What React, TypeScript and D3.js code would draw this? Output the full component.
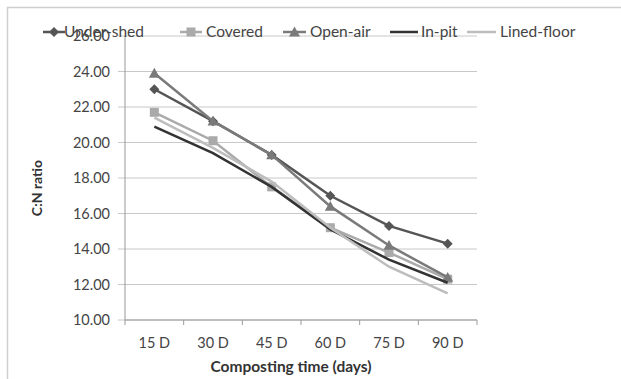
import React from "react";
import * as d3 from "d3";

const categories = ["15 D", "30 D", "45 D", "60 D", "75 D", "90 D"];
const underShed = [23.0, 21.2, 19.3, 17.0, 15.3, 14.3];
const covered = [21.7, 20.1, 17.5, 15.2, 13.8, 12.3];
const openAir = [23.9, 21.2, 19.3, 16.4, 14.2, 12.4];
const inPit = [20.9, 19.4, 17.5, 15.1, 13.4, 12.1];
const linedFloor = [21.4, 19.7, 17.8, 15.2, 13.0, 11.5];
const yTicks = [10, 12, 14, 16, 18, 20, 22, 24, 26];

const series = [
  { name: "Under-shed", values: underShed, color: "#555555", marker: "diamond" },
  { name: "Covered", values: covered, color: "#aaaaaa", marker: "square" },
  { name: "Open-air", values: openAir, color: "#7a7a7a", marker: "triangle" },
  { name: "In-pit", values: inPit, color: "#333333", marker: "none" },
  { name: "Lined-floor", values: linedFloor, color: "#bdbdbd", marker: "none" },
];

const W = 621, H = 379;
const left = 125, right = 477, top = 36, bottom = 320;

function Marker({ type, x, y, color }: { type: string; x: number; y: number; color: string }) {
  if (type === "diamond") {
    const s = 5;
    return <path d={`M${x},${y - s}L${x + s},${y}L${x},${y + s}L${x - s},${y}Z`} fill={color} />;
  }
  if (type === "square") {
    return <rect x={x - 4.5} y={y - 4.5} width={9} height={9} fill={color} />;
  }
  if (type === "triangle") {
    const s = 5.5;
    return <path d={`M${x},${y - s}L${x + s},${y + s * 0.8}L${x - s},${y + s * 0.8}Z`} fill={color} />;
  }
  return null;
}

export default function App() {
  const x = d3.scaleBand().domain(categories).range([left, right]);
  const y = d3.scaleLinear().domain([10, 26]).range([bottom, top]);
  const line = d3
    .line<number>()
    .x((_, i) => (x(categories[i]) as number) + x.bandwidth() / 2)
    .y((d) => y(d));

  const legendItems = [
    { lx: 43, lw: 22, tx: 64 },
    { lx: 180, lw: 22, tx: 206 },
    { lx: 283, lw: 23, tx: 310 },
    { lx: 390, lw: 28, tx: 421 },
    { lx: 467, lw: 29, tx: 500 },
  ];
  const font = "Lato, 'Open Sans', sans-serif";

  return (
    <svg width={W} height={H} style={{ position: "absolute", left: 0, top: 0 }} fontFamily={font}>
      <rect x={0} y={0} width={W} height={H} fill="#fff" />
      <rect x={7.5} y={7.5} width={W + 20} height={H + 20} fill="none" stroke="#cfcfcf" strokeWidth={1.5} />
      {yTicks.map((t) => (
        <g key={t}>
          <line x1={118} x2={right} y1={y(t)} y2={y(t)} stroke="#c8c8c8" strokeWidth={1} />
          <text x={110} y={y(t) + 5} textAnchor="end" fontSize={14.5} fill="#444">
            {t.toFixed(2)}
          </text>
        </g>
      ))}
      <line x1={left} x2={left} y1={top} y2={bottom} stroke="#999" strokeWidth={1} />
      <line x1={left} x2={right} y1={bottom} y2={bottom} stroke="#999" strokeWidth={1} />
      {categories.concat([""]).map((c, i) => {
        const xx = left + i * x.step();
        return <line key={"t" + i} x1={xx} x2={xx} y1={bottom} y2={bottom + 5} stroke="#999" />;
      })}
      {categories.map((c) => (
        <text key={c} x={(x(c) as number) + x.bandwidth() / 2} y={348} textAnchor="middle" fontSize={14.5} fill="#444">
          {c}
        </text>
      ))}
      <text x={291} y={372} textAnchor="middle" fontSize={15.5} fontWeight="bold" fill="#333">
        Composting time (days)
      </text>
      <text
        transform={`translate(42,188) rotate(-90)`}
        textAnchor="middle"
        fontSize={14}
        fontWeight="bold"
        fill="#333"
      >
        C:N ratio
      </text>
      {series.map((s) => (
        <g key={s.name}>
          <path d={line(s.values) as string} fill="none" stroke={s.color} strokeWidth={2.5} />
          {s.values.map((v, i) => (
            <Marker
              key={i}
              type={s.marker}
              x={(x(categories[i]) as number) + x.bandwidth() / 2}
              y={y(v)}
              color={s.color}
            />
          ))}
        </g>
      ))}
      {series.map((s, i) => {
        const it = legendItems[i];
        const ly = 32;
        return (
          <g key={"lg" + s.name}>
            <line x1={it.lx} x2={it.lx + it.lw} y1={ly} y2={ly} stroke={s.color} strokeWidth={2.5} />
            <Marker type={s.marker} x={it.lx + it.lw / 2} y={ly} color={s.color} />
            <text x={it.tx} y={ly + 5} fontSize={15.5} fill="#444">
              {s.name}
            </text>
          </g>
        );
      })}
    </svg>
  );
}
